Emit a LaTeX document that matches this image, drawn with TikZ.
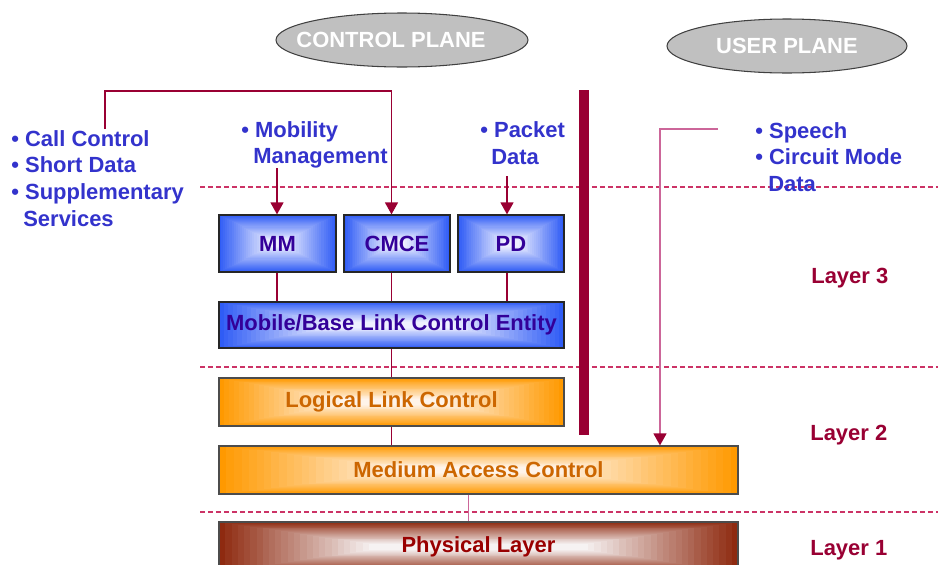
\documentclass[tikz,border=0pt]{standalone}
\usepackage{fontspec}
\setmainfont{Liberation Sans}
\usetikzlibrary{arrows.meta,shapes.geometric,calc}
\definecolor{crim}{HTML}{990033}
\definecolor{dashc}{HTML}{CC3366}
\definecolor{pinkl}{HTML}{CC6699}
\definecolor{txtblue}{HTML}{3333CC}
\definecolor{boxtxt}{HTML}{330099}
\definecolor{blueO}{HTML}{2F5CF5}
\definecolor{blueI}{HTML}{EEF0FF}
\definecolor{orO}{HTML}{FF9900}
\definecolor{orI}{HTML}{FFF4EA}
\definecolor{orT}{HTML}{CC6600}
\definecolor{phO}{HTML}{8E2A10}
\definecolor{phI}{HTML}{F6F2F2}
\definecolor{phT}{HTML}{990000}
\definecolor{planeG}{HTML}{C0C0C0}
% rectangular "from centre" gradient: x1 y1 x2 y2 insetx insety outer inner
\newcommand\gradrect[8]{%
  \foreach \gI in {0,...,24}{%
    \pgfmathsetmacro\gT{\gI/24}%
    \pgfmathtruncatemacro\gP{100-\gI*100/24}%
    \fill[#7!\gP!#8] ({#1+\gT*#5},{#2+\gT*#6}) rectangle ({#3-\gT*#5},{#4-\gT*#6});
  }}
\begin{document}
\begin{tikzpicture}[x=0.02cm,y=-0.02cm,
  font=\fontsize{12.5}{15}\selectfont\bfseries,
  conn/.style={draw=crim,line width=0.8pt},
  connl/.style={draw=pinkl,line width=0.8pt},
  tip/.style={-{Triangle[width=0.26cm,length=0.24cm,color=crim]}},
  dashline/.style={draw=dashc,line width=0.7pt,dash pattern=on 0.1cm off 0.06cm},
  bluebox/.style={draw=black!85,line width=0.7pt,minimum height=1.14cm,text=boxtxt,inner sep=1pt},
  orbox/.style={draw=black!70,line width=0.7pt,minimum height=0.96cm,text=orT,inner sep=1pt},
  plane/.style={ellipse,draw=black!75,line width=0.6pt,fill=planeG,text=white,minimum height=1.08cm,inner sep=0pt},
  bul/.style={anchor=base west,text=txtblue,inner sep=0pt},
  layer/.style={anchor=base west,text=crim,inner sep=0pt}]
\clip (0,0) rectangle (938,565);
\useasboundingbox (0,0) rectangle (938,565);

% planes
\node[plane,minimum width=5.04cm] (cp) at (402,40) {\makebox[0pt]{CONTROL PLANE\hspace*{0.44cm}}};
\node[plane,minimum width=4.8cm] (up) at (787,46) {\makebox[0pt]{USER PLANE}};

% layer separators
\draw[dashline] (200,187) -- (938,187);
\draw[dashline] (200,367) -- (938,367);
\draw[dashline] (200,512) -- (938,512);

% plane separator bar
\fill[crim] (579,90) rectangle (589,435);

% gradients
\gradrect{219}{215}{336}{272}{50}{25}{blueO}{blueI}
\gradrect{344}{215}{450}{272}{45}{25}{blueO}{blueI}
\gradrect{458}{215}{564}{272}{45}{25}{blueO}{blueI}
\gradrect{219}{302}{564}{348}{110}{20}{blueO}{blueI}
\gradrect{219}{378}{564}{426}{120}{21}{orO}{orI}
\gradrect{219}{446}{738}{494}{180}{21}{orO}{orI}
\gradrect{219}{522}{738}{572}{150}{22}{phO}{phI}

% boxes
\node[bluebox,minimum width=2.34cm] (mm) at (277.5,243.5) {MM};
\node[bluebox,minimum width=2.12cm] (cmce) at (397,243.5) {CMCE};
\node[bluebox,minimum width=2.12cm] (pd) at (511,243.5) {PD};
\node[bluebox,minimum width=6.9cm,minimum height=0.92cm] (mlce) at (391.5,325) {Mobile/Base Link Control Entity};
\node[orbox,minimum width=6.9cm] (llc) at (391.5,402) {Logical Link Control};
\node[orbox,minimum width=10.38cm] (mac) at (478.5,470) {Medium Access Control};
\node[orbox,minimum width=10.38cm,minimum height=1.0cm,text=phT] (phys) at (478.5,547) {Physical Layer};

% texts
\node[bul] (t1) at (11,146) {• Call Control};
\node[bul] (t2) at (11,172) {• Short Data};
\node[bul] (t3) at (11,199) {• Supplementary};
\node[bul] (t4) at (23,226) {Services};
\node[bul] (m1) at (241,137) {• Mobility};
\node[bul] (m2) at (253,163) {Management};
\node[bul] (p1) at (480,137) {• Packet};
\node[bul] (p2) at (491,164) {Data};
\node[bul] (s1) at (755,138) {• Speech};
\node[bul] (s2) at (755,164) {• Circuit Mode};
\node[bul] (s3) at (768,191) {Data};
\node[layer] (l3) at (811,283) {Layer 3};
\node[layer] (l2) at (810,440) {Layer 2};
\node[layer] (l1) at (810,555) {Layer 1};

% connector anchor points
\coordinate (mmsrc) at (277,168);
\coordinate (ccsrc) at (105,129);
\coordinate (cctop) at (105,91);
\coordinate (pdsrc) at (507,176);
\coordinate (upsrc) at (718,129);
\coordinate (upbend) at (660,129);
\coordinate (mp) at ([xshift=-0.2cm]mac.south);

% arrows into layer 3 entities
\draw[conn,tip] (mmsrc) -- (mmsrc |- mm.north);
\draw[conn,tip] (ccsrc) -- (cctop) -- (cctop -| mlce.north) -- (mlce.north |- cmce.north);
\draw[conn,tip] (pdsrc) -- (pdsrc |- pd.north);
\draw[connl,tip] (upsrc) -- (upbend) -- (upbend |- mac.north);

% stack links
\draw[conn] (mmsrc |- mm.south) -- (mmsrc |- mlce.north);
\draw[conn] (mlce.north |- cmce.south) -- (mlce.north);
\draw[conn] (pdsrc |- pd.south) -- (pdsrc |- mlce.north);
\draw[conn] (mlce.south) -- (llc.north);
\draw[conn] (llc.south) -- (llc.south |- mac.north);
\draw[connl] (mp) -- (mp |- phys.north);
\end{tikzpicture}
\end{document}
